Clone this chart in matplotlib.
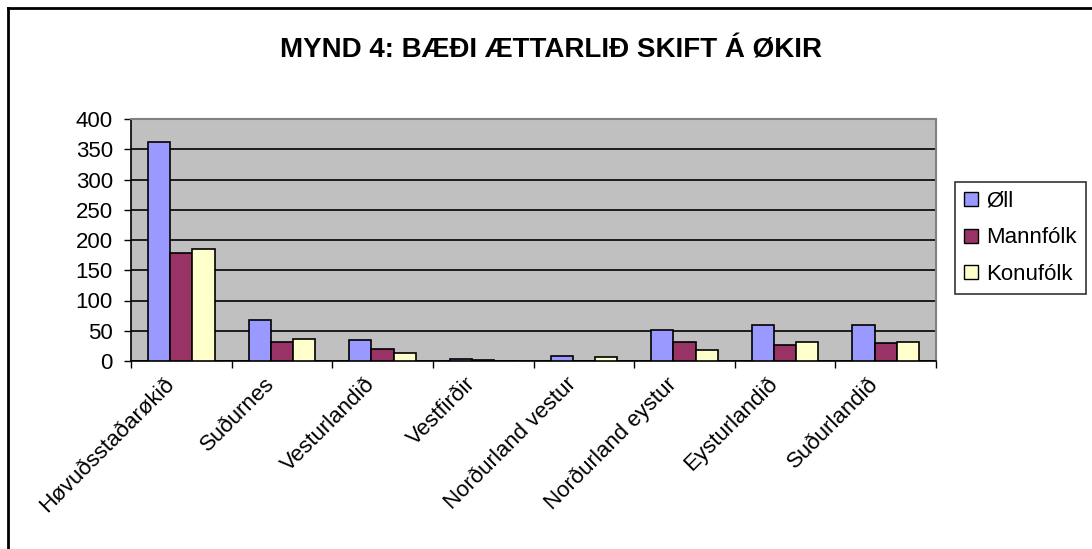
import numpy as np
import matplotlib
matplotlib.use('Agg')
import matplotlib.pyplot as plt
from matplotlib.lines import Line2D
from matplotlib.transforms import ScaledTranslation

plt.rcParams['font.family'] = ['Liberation Sans', 'DejaVu Sans']

# data
categories = ['Høvuðsstaðarøkið', 'Suðurnes', 'Vesturlandið', 'Vestfirðir',
              'Norðurland vestur', 'Norðurland eystur', 'Eysturlandið', 'Suðurlandið']
oll = [362, 67, 35, 3, 9, 52, 59, 59]
mannfolk = [179, 31, 20, 2, 0, 32, 26, 29]
konufolk = [185, 37, 14, 0, 6, 18, 32, 32]
series_names = ['Øll', 'Mannfólk', 'Konufólk']
colors = ['#9999FF', '#993366', '#FFFFCC']

fig = plt.figure(figsize=(10.92, 5.49), dpi=100)
ax = fig.add_axes([131 / 1092, 1 - 361 / 549, 805 / 1092, 242 / 549])

x = np.arange(len(categories))
w = 0.22
for i, (vals, c) in enumerate(zip([oll, mannfolk, konufolk], colors)):
    ax.bar(x + (i - 1) * w, vals, width=w, color=c, edgecolor='black', linewidth=1.2,
           label=series_names[i], zorder=3)

ax.set_facecolor('#C0C0C0')
ax.set_xlim(-0.5, len(categories) - 0.5)
ax.set_ylim(0, 400)
ax.set_yticks(range(0, 401, 50))
ax.yaxis.grid(True, color='black', linewidth=1.2, zorder=1)
ax.tick_params(axis='y', labelsize=16, length=5, width=1, direction='out', pad=8)

ax.set_xticks(x)
ax.set_xticklabels(categories, rotation=45, ha='right', va='top',
                   rotation_mode='anchor', fontsize=16)
ax.tick_params(axis='x', length=0, pad=9)
shift = ScaledTranslation(-18 / 100, 0, fig.dpi_scale_trans)
for lbl in ax.get_xticklabels():
    lbl.set_transform(lbl.get_transform() + shift)
ax.set_xticks(np.arange(-0.5, len(categories), 1), minor=True)
ax.tick_params(axis='x', which='minor', length=5, width=1, direction='out')

for s in ['top', 'right']:
    ax.spines[s].set_color('#808080')
    ax.spines[s].set_linewidth(1.5)
for s in ['left', 'bottom']:
    ax.spines[s].set_color('black')
    ax.spines[s].set_linewidth(1.2)

fig.text(0.505, 1 - 50 / 549, 'MYND 4: BÆÐI ÆTTARLIÐ SKIFT Á ØKIR',
         ha='center', va='center', fontsize=20, fontweight='bold')

handles = [Line2D([], [], marker='s', linestyle='none', markersize=9.4,
                  markerfacecolor=c, markeredgecolor='black', markeredgewidth=1)
           for c in colors]
leg = fig.legend(handles, series_names, loc='upper left',
                 bbox_to_anchor=(955 / 1092, 1 - 182 / 549), fontsize=16,
                 frameon=True, fancybox=False, edgecolor='black',
                 handlelength=0.6, handletextpad=0.4, borderpad=0.4,
                 labelspacing=0.7, borderaxespad=0)
leg.get_frame().set_linewidth(1.2)

# chart border (left and top)
fig.add_artist(Line2D([7.5 / 1092, 7.5 / 1092], [0, 1 - 7.5 / 549], color='black', linewidth=2))
fig.add_artist(Line2D([7.5 / 1092, 1], [1 - 7.5 / 549, 1 - 7.5 / 549], color='black', linewidth=2))

fig.savefig('out.png', dpi=100)
